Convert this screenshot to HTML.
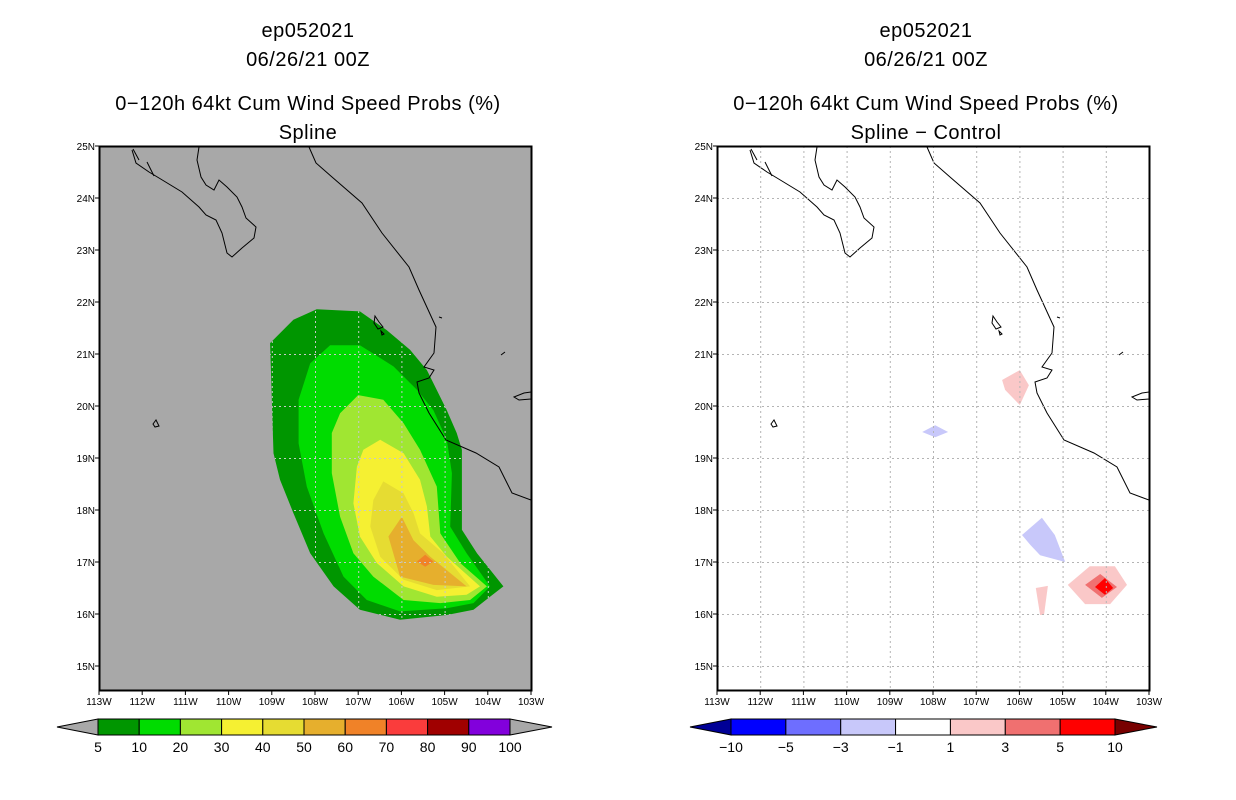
<!DOCTYPE html>
<html><head><meta charset="utf-8"><style>
body{margin:0;background:#fff;}
svg{display:block;font-family:"Liberation Sans",sans-serif;}
.t{font-size:20px;text-anchor:middle;fill:#000;letter-spacing:0.5px}
.tk{font-size:10px;fill:#000}
</style></head><body>
<svg id="s" width="1236" height="800" viewBox="0 0 1236 800">
<g>
<text class="t" x="308" y="37">ep052021</text>
<text class="t" x="308" y="66">06/26/21 00Z</text>
<text class="t" x="308" y="110">0−120h 64kt Cum Wind Speed Probs (%)</text>
<text class="t" x="308" y="139">Spline</text>
</g>
<g>
<text class="t" x="926" y="37">ep052021</text>
<text class="t" x="926" y="66">06/26/21 00Z</text>
<text class="t" x="926" y="110">0−120h 64kt Cum Wind Speed Probs (%)</text>
<text class="t" x="926" y="139">Spline − Control</text>
</g>
</svg>
<script>
const lonTicks=[-113,-112,-111,-110,-109,-108,-107,-106,-105,-104,-103];
const latTicks=[25,24,23,22,21,20,19,18,17,16,15];
const probLevels=[5,10,20,30,40,50,60];
const probColors=["#009600","#00dc00","#a0e632","#f5f032","#e6dc32","#e6af2d","#f08228"];
const probPolys=[
[[-107.96,21.86],[-106.96,21.82],[-106.34,21.46],[-105.80,21.08],[-105.41,20.69],[-104.95,19.92],[-104.72,19.48],[-104.60,19.16],[-104.60,17.62],[-104.25,17.17],[-103.64,16.53],[-103.95,16.33],[-104.33,16.08],[-104.95,15.98],[-106.03,15.89],[-106.96,16.08],[-107.57,16.53],[-108.11,17.17],[-108.50,17.94],[-108.81,18.58],[-108.96,19.09],[-109.00,20.12],[-109.04,21.21],[-108.50,21.66]],
[[-107.65,21.17],[-106.96,21.17],[-106.18,20.76],[-105.64,20.31],[-105.26,19.92],[-104.95,19.35],[-104.83,18.71],[-104.87,17.68],[-104.49,17.17],[-103.95,16.53],[-104.33,16.21],[-104.95,16.11],[-106.03,16.05],[-106.80,16.27],[-107.34,16.72],[-107.80,17.55],[-108.19,18.45],[-108.38,19.28],[-108.38,20.12],[-108.11,20.82]],
[[-107.00,20.21],[-106.42,20.12],[-105.95,19.67],[-105.57,19.16],[-105.18,18.45],[-105.10,17.55],[-104.64,16.98],[-104.02,16.53],[-104.41,16.27],[-105.10,16.21],[-105.95,16.27],[-106.65,16.72],[-107.11,17.17],[-107.42,17.87],[-107.61,18.71],[-107.61,19.48],[-107.42,19.86]],
[[-106.49,19.35],[-105.95,19.09],[-105.57,18.58],[-105.41,18.07],[-105.33,17.49],[-104.95,17.10],[-104.18,16.53],[-104.49,16.37],[-105.18,16.33],[-105.95,16.53],[-106.57,16.98],[-106.96,17.49],[-107.11,18.13],[-107.03,18.83],[-106.88,19.16]],
[[-106.42,18.55],[-105.95,18.32],[-105.72,17.94],[-105.57,17.55],[-105.03,17.17],[-104.41,16.53],[-105.18,16.46],[-105.95,16.66],[-106.49,17.10],[-106.72,17.68],[-106.65,18.19]],
[[-105.99,17.87],[-105.72,17.42],[-105.33,17.10],[-104.49,16.53],[-105.26,16.56],[-106.03,16.72],[-106.30,17.49]],
[[-105.64,17.01],[-105.45,17.14],[-105.26,17.01],[-105.45,16.91]]
];
const diffLevels=[-3,1,-3,1,1,3,5];
const diffColors={"-3":"#c8c8fa","1":"#fac8c8","3":"#f07070","5":"#ff0000"};
const diffPolys=[
[[-107.95,19.63],[-107.65,19.50],[-107.95,19.40],[-108.25,19.50]],
[[-106.40,20.50],[-105.99,20.69],[-105.78,20.40],[-105.99,20.02],[-106.33,20.31]],
[[-105.94,17.52],[-105.48,17.85],[-105.18,17.52],[-104.94,17.00],[-105.52,17.13],[-105.75,17.33]],
[[-105.62,16.50],[-105.34,16.54],[-105.43,15.98],[-105.52,15.98]],
[[-104.88,16.56],[-104.37,16.92],[-103.79,16.92],[-103.51,16.56],[-103.90,16.19],[-104.48,16.19]],
[[-104.48,16.56],[-104.13,16.77],[-103.74,16.52],[-104.09,16.31]],
[[-104.25,16.52],[-104.02,16.69],[-103.83,16.50],[-104.02,16.37]]
];
const probBarLabels=["5","10","20","30","40","50","60","70","80","90","100"];
const probBarColors=["#009600","#00dc00","#a0e632","#f5f032","#e6dc32","#e6af2d","#f08228","#fa3c3c","#a00000","#8200dc"];
const diffBarLabels=["−10","−5","−3","−1","1","3","5","10"];
const diffBarColors=["#0000ff","#6e6eff","#c8c8fa","#ffffff","#fac8c8","#f07070","#ff0000"];

const NS="http://www.w3.org/2000/svg";
const svg=document.getElementById('s');
const FW=432,FH=544,PXD=43.2,PYD=52;
function mk(tag,attrs,parent){const e=document.createElementNS(NS,tag);for(const k in attrs)e.setAttribute(k,attrs[k]);(parent||svg).appendChild(e);return e;}
function xS(x0,lon){return x0+(lon+113)*PXD;}
function yS(lat){return 146+(25-lat)*PYD;}
function pts(x0,p){return p.map(q=>xS(x0,q[0]).toFixed(1)+","+yS(q[1]).toFixed(1)).join(" ");}
const baja="M33,4 L37,17 L50,26 L60,32 L83,46 L100,61 L107,69 L117,74 L123,87 L128,107 L133,111 L143,102 L155,92 L157,81 L147,72 L143,61 L138,51 L128,41 L120,34 L115,44 L107,39 L102,31 L98,14 L100,1";
const main="M210,1 L217,17 L233,31 L263,57 L283,87 L310,121 L320,144 L337,181 L335,207 L325,221 L335,224 L330,232 L318,236 L320,247 L330,267 L347,294 L377,307 L400,321 L413,347 L432,354";
const isl="M276,170 L280,176 L284,181 L279,183 L275,177 Z M282,185 L285,188 L283,189 Z M54,278 L57,274 L60,280 L56,281 Z M415,251 L425,247 L432,246 L432,253 L420,254 Z M402,209 L406,206 M340,171 L343,172 M48,16 L55,30 M34,3 L40,14";
function panel(x0,left){
  const g=mk('g',{});
  
  
  const bg=mk('rect',{x:x0,y:146,width:FW,height:FH,fill:left?'#a8a8a8':'#ffffff'},g);
  
  
  const cid='clip'+x0;
  const cp=mk('clipPath',{id:cid},g);
  mk('rect',{x:x0,y:146,width:FW,height:FH},cp);
  const cg=mk('g',{'clip-path':'url(#'+cid+')'},g);
  if(left){
    probPolys.forEach((p,i)=>{const e=mk('polygon',{points:pts(x0,p),fill:probColors[i]},cg);
      
      });
  } else {
    diffPolys.forEach((p,i)=>{const e=mk('polygon',{points:pts(x0,p),fill:diffColors[String(diffLevels[i])]},cg);
      
      });
  }
  const gid='gclip'+x0;
  const gcp=mk('clipPath',{id:gid},g);
  if(left) mk('polygon',{points:pts(x0,probPolys[0])},gcp); else mk('rect',{x:x0,y:146,width:FW,height:FH},gcp);
  const gg=mk('g',{'clip-path':'url(#'+gid+')',stroke:left?'#c8c8c8':'#b4b4b4','stroke-width':1,'stroke-dasharray':'2,3'},g);
  
  
  lonTicks.slice(1,-1).forEach(l=>mk('line',{x1:xS(x0,l)+.5,x2:xS(x0,l)+.5,y1:146,y2:690},gg));
  latTicks.slice(1).forEach(l=>mk('line',{x1:x0,x2:x0+FW,y1:yS(l)+.5,y2:yS(l)+.5},gg));
  const cst=mk('g',{transform:'translate('+x0+',146)',fill:'none',stroke:'#000','stroke-width':1},cg);
  
  
  mk('path',{d:baja},cst);mk('path',{d:main},cst);mk('path',{d:isl},cst);
  const fr=mk('rect',{x:x0+.5,y:146.5,width:FW,height:FH,fill:'none',stroke:'#000','stroke-width':2},g);
  
  
  lonTicks.forEach(l=>{const x=xS(x0,l);
    mk('line',{x1:x,x2:x,y1:690,y2:695,stroke:'#000'},g);
    const t=mk('text',{x:x,y:705,'text-anchor':'middle',class:'tk'},g);t.textContent=Math.abs(l)+'W';
    
    });
  latTicks.forEach(l=>{const y=yS(l);
    mk('line',{x1:x0-4,x2:x0,y1:y,y2:y,stroke:'#000'},g);
    const t=mk('text',{x:x0-4,y:y+4,'text-anchor':'end',class:'tk'},g);t.textContent=l+'N';
    
    });
}
panel(99,true);panel(717,false);
function bar(x0,x1,labels,colors,lc,rc,name){
  const g=mk('g',{});
  
  
  const n=colors.length,w=(x1-x0)/n,y0=719,y1=735;
  mk('polygon',{points:`${x0},${y0} ${x0-41},${(y0+y1)/2} ${x0},${y1}`,fill:lc,stroke:'#000','stroke-width':1},g);
  mk('polygon',{points:`${x1},${y0} ${x1+42},${(y0+y1)/2} ${x1},${y1}`,fill:rc,stroke:'#000','stroke-width':1},g);
  colors.forEach((c,i)=>{const r=mk('rect',{x:x0+i*w,y:y0,width:w,height:y1-y0,fill:c,stroke:'#000','stroke-width':1},g);
    
    });
  labels.forEach((s,i)=>{const t=mk('text',{x:x0+i*w,y:752,'text-anchor':'middle','font-size':'14px'},g);t.textContent=s;
    
    });
}
bar(98,510,probBarLabels,probBarColors,'#a8a8a8','#a8a8a8','prob-colorbar');
bar(731,1115,diffBarLabels,diffBarColors,'#000096','#780000','diff-colorbar');
</script>
</body></html>
